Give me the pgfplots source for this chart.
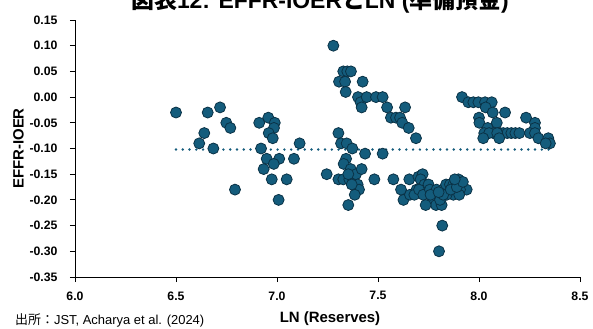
\documentclass[border=0pt]{standalone}
\usepackage{fontspec}
\setmainfont{Liberation Sans}
\newfontfamily\jp{Noto Sans CJK JP}
\usepackage{pgfplots}
\pgfplotsset{compat=1.18}
\definecolor{dotfill}{RGB}{20,92,124}
\definecolor{dotedge}{RGB}{10,50,70}
\begin{document}
\begin{tikzpicture}
\path[use as bounding box] (-75bp,-52bp) rectangle (518bp,277bp);
\begin{axis}[
  at={(0,0)}, anchor=south west,
  scale only axis, width=505bp, height=257bp,
  xmin=6, xmax=8.5, ymin=-0.35, ymax=0.15,
  axis lines*=left,
  axis line style={line width=0.9pt, black},
  xtick={6,6.5,7,7.5,8,8.5},
  ytick={-0.35,-0.3,-0.25,-0.2,-0.15,-0.1,-0.05,0,0.05,0.1,0.15},
  tick align=outside, major tick length=5bp,
  tick style={line width=0.9pt, black},
  x tick label style={/pgf/number format/fixed, /pgf/number format/fixed zerofill, /pgf/number format/precision=1, /pgf/number format/assume math mode=true},
  y tick label style={/pgf/number format/fixed, /pgf/number format/fixed zerofill, /pgf/number format/precision=2, /pgf/number format/assume math mode=true},
  ticklabel style={font=\fontsize{12.3}{13}\selectfont\bfseries},
  xticklabel style={yshift=-6bp},
  yticklabel style={xshift=-9bp},
  clip=false,
]
\addplot[dotfill, line width=2.7pt, line cap=round, dash pattern=on 0pt off 6.8pt] coordinates {(6.5,-0.102) (8.35,-0.102)};
\addplot[only marks, mark=*, mark size=5.5bp, mark options={fill=dotfill, draw=dotedge, line width=0.8pt}] coordinates {
(6.50,-0.03) (6.615,-0.09) (6.64,-0.07) (6.657,-0.03) (6.685,-0.10) (6.718,-0.02) (6.749,-0.05) (6.769,-0.06) (6.792,-0.18)
(6.912,-0.05) (6.957,-0.04) (6.989,-0.05) (6.985,-0.06) (6.959,-0.07) (6.979,-0.08) (6.921,-0.10) (7.112,-0.09)
(6.949,-0.12) (7.011,-0.12) (6.984,-0.13) (6.934,-0.14) (7.084,-0.12) (6.974,-0.16) (7.048,-0.16) (7.008,-0.20)
(7.279,0.10) (7.328,0.05) (7.348,0.05) (7.366,0.05) (7.307,0.03) (7.337,0.03) (7.424,0.03) (7.340,0.01)
(7.401,0.00) (7.414,-0.01) (7.419,-0.02) (7.444,0.00) (7.490,0.00) (7.523,0.00) (7.545,-0.02) (7.634,-0.02)
(7.564,-0.04) (7.589,-0.04) (7.609,-0.04) (7.620,-0.05) (7.652,-0.06) (7.688,-0.08)
(7.304,-0.07) (7.317,-0.09) (7.345,-0.09) (7.373,-0.10) (7.436,-0.11) (7.523,-0.11) (7.342,-0.12) (7.33,-0.13)
(7.246,-0.15) (7.304,-0.16) (7.328,-0.16) (7.358,-0.16) (7.365,-0.14) (7.391,-0.15) (7.419,-0.14) (7.353,-0.15)
(7.399,-0.17) (7.406,-0.18) (7.385,-0.19) (7.353,-0.21) (7.37,-0.17) (7.482,-0.16) (7.576,-0.16) (7.655,-0.16)
(7.614,-0.18) (7.626,-0.20) (7.658,-0.19) (7.691,-0.18) (7.700,-0.155) (7.68,-0.19)
(7.721,-0.15) (7.711,-0.16) (7.730,-0.17) (7.750,-0.17) (7.703,-0.18) (7.724,-0.19) (7.757,-0.18) (7.770,-0.20)
(7.787,-0.21) (7.736,-0.21) (7.815,-0.21) (7.807,-0.20) (7.790,-0.18) (7.823,-0.18) (7.837,-0.17) (7.856,-0.17)
(7.873,-0.17) (7.898,-0.16) (7.914,-0.17) (7.939,-0.18) (7.906,-0.18) (7.873,-0.19) (7.840,-0.19) (7.823,-0.19)
(7.902,-0.19) (7.76,-0.19) (7.80,-0.185) (7.86,-0.18) (7.89,-0.175) (7.92,-0.165) (7.88,-0.16)
(7.818,-0.25) (7.802,-0.30)
(7.916,0.00) (7.947,-0.01) (7.972,-0.01) (7.997,-0.01) (8.030,-0.01) (8.063,-0.01) (8.033,-0.02) (8.068,-0.03)
(8.129,-0.03) (8.000,-0.04) (8.002,-0.05) (8.088,-0.05) (8.043,-0.06) (8.026,-0.07) (8.071,-0.07) (8.104,-0.07)
(8.12,-0.07) (8.14,-0.07) (8.16,-0.07) (8.18,-0.07) (8.20,-0.07) (8.05,-0.07) (8.09,-0.07)
(8.233,-0.04) (8.277,-0.05) (8.277,-0.06) (8.252,-0.07) (8.277,-0.07) (8.294,-0.08) (8.021,-0.08) (8.100,-0.08)
(8.343,-0.08) (8.351,-0.09) (8.33,-0.09)
};
\end{axis}
\node[rotate=90, font=\fontsize{15}{16}\selectfont\bfseries] at (-56.5bp,128.5bp) {EFFR-IOER};
\node[font=\fontsize{15}{16}\selectfont\bfseries] at (255bp,-42bp) {LN (Reserves)};
\node[anchor=west, font=\fontsize{13}{14}\selectfont, inner sep=0pt] at (-60bp,-43bp) {{\jp 出所：}JST, Acharya et al. (2024)};
\node[anchor=base, font=\fontsize{23}{24}\selectfont\bfseries] at (245bp,268bp) {{\jp 図表}12: EFFR-IOER{\jp と}LN ({\jp 準備預金})};
\end{tikzpicture}
\end{document}
